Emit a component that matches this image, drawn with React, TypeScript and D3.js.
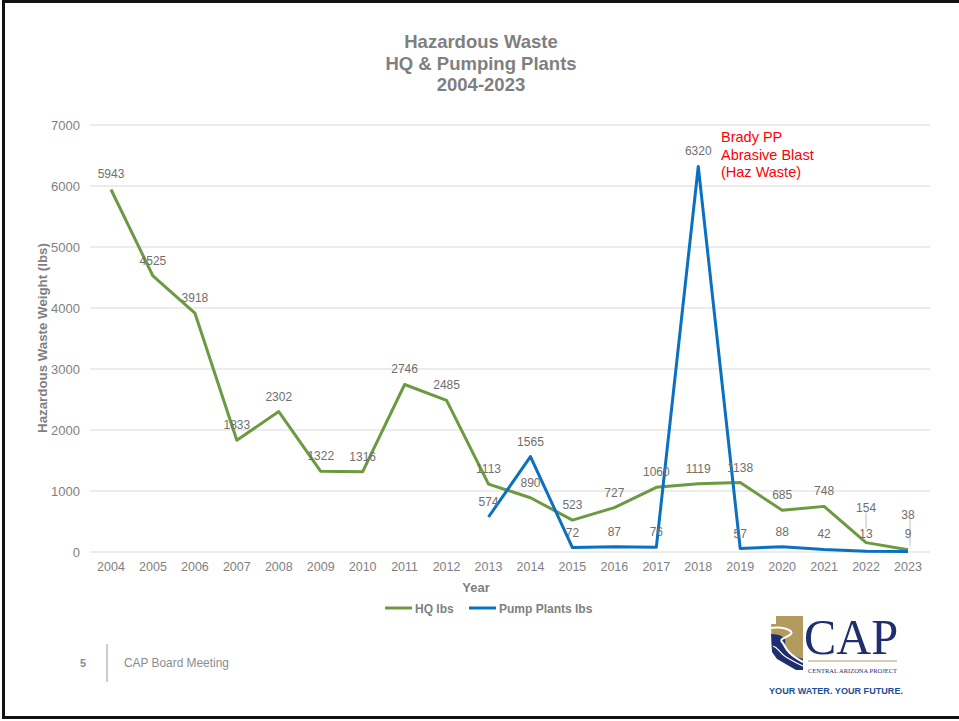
import React, {useEffect, useRef} from 'react';
import * as d3 from 'd3';

const years = [2004, 2005, 2006, 2007, 2008, 2009, 2010, 2011, 2012, 2013, 2014, 2015, 2016, 2017, 2018, 2019, 2020, 2021, 2022, 2023];
const hqLbs = [5943, 4525, 3918, 1833, 2302, 1322, 1316, 2746, 2485, 1113, 890, 523, 727, 1060, 1119, 1138, 685, 748, 154, 38];
const pumpYears = [2013, 2014, 2015, 2016, 2017, 2018, 2019, 2020, 2021, 2022, 2023];
const pumpLbs = [574, 1565, 72, 87, 76, 6320, 57, 88, 42, 13, 9];
const yTicks = [0, 1000, 2000, 3000, 4000, 5000, 6000, 7000];
const titleLines = ['Hazardous Waste', 'HQ & Pumping Plants', '2004-2023'];
const noteLines = ['Brady PP', 'Abrasive Blast', '(Haz Waste)'];

const W = 959, H = 721;
const GREEN = '#6b9a41';
const BLUE = '#0a70c2';
const NAVY = '#1f2f6e';
const GOLD = '#b39a5e';
const FONT = 'Liberation Sans, Arial, sans-serif';

// labels that were dragged away from their point in the original (leader lines)
const hqShift: Record<number, number> = {2022: -20, 2023: -20};
const pumpShift: Record<number, number> = {2022: -2, 2023: -2};

const App = () => {
    const ref = useRef<SVGSVGElement>(null);

    useEffect(() => {
        const svg = d3.select(ref.current);
        svg.selectAll('*').remove();

        const x = d3.scalePoint<number>().domain(years).range([111, 908]);
        const y = d3.scaleLinear().domain([0, 7000]).range([552, 125]);

        // slide frame (right edge runs off the picture)
        svg.append('rect').attr('x', 3.5).attr('y', 1.5).attr('width', 980).attr('height', 716)
            .attr('fill', 'white').attr('stroke', '#111').attr('stroke-width', 3);

        // title
        svg.append('g').selectAll('text').data(titleLines).join('text')
            .attr('x', 481).attr('y', (d, i) => 48 + i * 21.5)
            .attr('text-anchor', 'middle').attr('font-family', FONT).attr('font-size', 18.5)
            .attr('font-weight', 'bold').attr('fill', '#7f7f7f').text(d => d);

        // grid + y ticks
        const grid = svg.append('g');
        grid.selectAll('line').data(yTicks).join('line')
            .attr('x1', 90).attr('x2', 930).attr('y1', d => y(d)).attr('y2', d => y(d))
            .attr('stroke', '#d9d9d9').attr('stroke-width', 1);
        grid.selectAll('text').data(yTicks).join('text')
            .attr('x', 80).attr('y', d => y(d) + 4.5).attr('text-anchor', 'end')
            .attr('font-family', FONT).attr('font-size', 13).attr('fill', '#7f7f7f').text(d => d);

        // x ticks
        svg.append('g').selectAll('text').data(years).join('text')
            .attr('x', d => x(d)!).attr('y', 571).attr('text-anchor', 'middle')
            .attr('font-family', FONT).attr('font-size', 12.5).attr('fill', '#7f7f7f').text(d => d);

        // axis titles
        svg.append('text').attr('x', 476).attr('y', 592).attr('text-anchor', 'middle')
            .attr('font-family', FONT).attr('font-size', 13).attr('font-weight', 'bold')
            .attr('fill', '#7f7f7f').text('Year');
        svg.append('text').attr('transform', 'translate(47,338) rotate(-90)').attr('text-anchor', 'middle')
            .attr('font-family', FONT).attr('font-size', 13.3).attr('font-weight', 'bold')
            .attr('fill', '#7f7f7f').text('Hazardous Waste Weight (lbs)');

        const line = d3.line<[number, number]>().x(d => x(d[0])!).y(d => y(d[1]));
        const hq: [number, number][] = years.map((yr, i) => [yr, hqLbs[i]]);
        const pump: [number, number][] = pumpYears.map((yr, i) => [yr, pumpLbs[i]]);

        svg.append('path').datum(hq).attr('d', line).attr('fill', 'none')
            .attr('stroke', GREEN).attr('stroke-width', 3).attr('stroke-linejoin', 'round');
        svg.append('path').datum(pump).attr('d', line).attr('fill', 'none')
            .attr('stroke', BLUE).attr('stroke-width', 3).attr('stroke-linejoin', 'round');

        // leader lines for shifted labels
        const leaders = svg.append('g');
        hq.filter(d => hqShift[d[0]]).forEach(d => {
            const lx = x(d[0])! + (d[0] === 2023 ? 2 : 0);
            leaders.append('line').attr('x1', lx).attr('x2', lx)
                .attr('y1', y(d[1]) - 30).attr('y2', y(d[1]) - (d[0] === 2023 ? 4 : 14))
                .attr('stroke', '#bfbfbf').attr('stroke-width', 1);
        });

        const labels = (data: [number, number][], shift: Record<number, number>) =>
            svg.append('g').selectAll('text').data(data).join('text')
                .attr('x', d => x(d[0])!).attr('y', d => y(d[1]) - 11 + (shift[d[0]] || 0))
                .attr('text-anchor', 'middle').attr('font-family', FONT).attr('font-size', 12)
                .attr('fill', '#6f6f6f').text(d => d[1]);
        labels(hq, hqShift);
        labels(pump, pumpShift);

        // annotation
        svg.append('g').selectAll('text').data(noteLines).join('text')
            .attr('x', 721).attr('y', (d, i) => 142 + i * 17.5)
            .attr('font-family', FONT).attr('font-size', 14.5).attr('fill', '#ff0000').text(d => d);

        // legend
        const legend = svg.append('g').attr('font-family', FONT).attr('font-size', 12).attr('font-weight', 'bold').attr('fill', '#7f7f7f');
        [{name: 'HQ lbs', c: GREEN, x0: 385}, {name: 'Pump Plants lbs', c: BLUE, x0: 469}].forEach(s => {
            legend.append('line').attr('x1', s.x0).attr('x2', s.x0 + 27).attr('y1', 608).attr('y2', 608)
                .attr('stroke', s.c).attr('stroke-width', 3);
            legend.append('text').attr('x', s.x0 + 30).attr('y', 612.5).text(s.name);
        });

        // footer
        svg.append('text').attr('x', 80).attr('y', 667).attr('font-family', FONT).attr('font-size', 11)
            .attr('font-weight', 'bold').attr('fill', '#8c8c8c').text('5');
        svg.append('line').attr('x1', 107).attr('x2', 107).attr('y1', 644).attr('y2', 682)
            .attr('stroke', '#9a9a9a').attr('stroke-width', 1);
        svg.append('text').attr('x', 124).attr('y', 667).attr('font-family', FONT).attr('font-size', 11.9)
            .attr('fill', '#8c8c8c').text('CAP Board Meeting');

        // logo
        const logo = svg.append('g');
        logo.append('path')
            .attr('d', 'M776,616 L803,616 L803,664 L790,664 L772,650 L771,624 L776,624 Z')
            .attr('fill', GOLD);
        logo.append('path')
            .attr('d', 'M771,634 C781,634 787,638 785,643 C783,649 790,655 803,659 L803,670 L796,670 L777,659 L772,652 Z')
            .attr('fill', NAVY);
        logo.append('path')
            .attr('d', 'M771,628 C781,626 794,630 791,634 C787,638 779,638 782,642 C786,646 784,652 803,662')
            .attr('fill', 'none').attr('stroke', 'white').attr('stroke-width', 2);
        logo.append('path')
            .attr('d', 'M773,646 C779,648 779,653 786,657 C791,660 796,663 803,666')
            .attr('fill', 'none').attr('stroke', 'white').attr('stroke-width', 1.2);
        logo.append('text').attr('x', 804).attr('y', 654).attr('font-family', 'Liberation Serif, serif')
            .attr('font-size', 50).attr('fill', NAVY).attr('textLength', 94).attr('lengthAdjust', 'spacingAndGlyphs').text('CAP');
        logo.append('line').attr('x1', 808).attr('x2', 897).attr('y1', 661).attr('y2', 661)
            .attr('stroke', GOLD).attr('stroke-width', 1);
        logo.append('text').attr('x', 808).attr('y', 672.5).attr('font-family', 'Liberation Serif, serif')
            .attr('font-size', 6.8).attr('fill', NAVY).attr('textLength', 89).attr('lengthAdjust', 'spacingAndGlyphs')
            .text('CENTRAL ARIZONA PROJECT');
        logo.append('text').attr('x', 769).attr('y', 694).attr('font-family', FONT).attr('font-size', 8.5)
            .attr('font-weight', 'bold').attr('fill', '#1f4b9c').attr('textLength', 134).attr('lengthAdjust', 'spacingAndGlyphs')
            .text('YOUR WATER. YOUR FUTURE.');
    }, []);

    return (
        <div style={{position: 'absolute', left: 0, top: 0}}>
            <svg ref={ref} width={W} height={H} style={{display: 'block'}}/>
        </div>
    );
};

export default App;
